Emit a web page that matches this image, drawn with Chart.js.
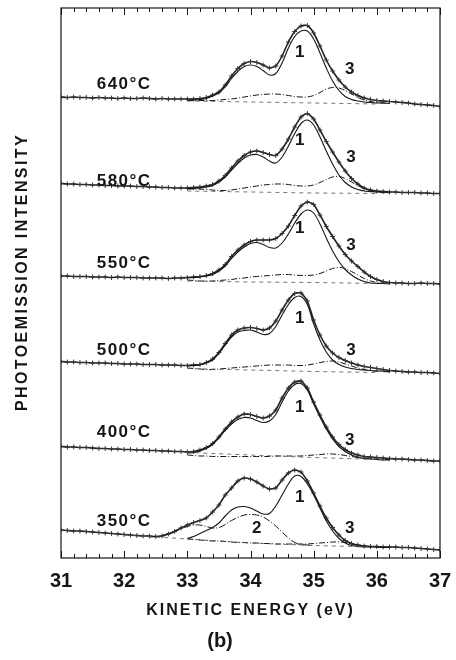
<!DOCTYPE html>
<html lang="en">
<head>
<meta charset="UTF-8">
<title>Photoemission spectra vs temperature</title>
<script src="https://cdn.jsdelivr.net/npm/chart.js@4/dist/chart.umd.min.js"></script>
<style>
  body { margin: 0; background: #fff; }
  #wrap { width: 456px; height: 660px; }
</style>
</head>
<body>
<div id="wrap"><canvas id="spectra" width="456" height="660"></canvas></div>
<script>
// spectra labels, top to bottom
const TEMPS = ['640°C', '580°C', '550°C', '500°C', '400°C', '350°C'];

// kinetic energy grids (eV)
const E_DATA = [31.0, 31.1, 31.2, 31.3, 31.4, 31.5, 31.6, 31.7, 31.8, 31.9,
  32.0, 32.1, 32.2, 32.3, 32.4, 32.5, 32.6, 32.7, 32.8, 32.9,
  33.0, 33.1, 33.2, 33.3, 33.4, 33.5, 33.6, 33.7, 33.8, 33.9,
  34.0, 34.1, 34.2, 34.3, 34.4, 34.5, 34.6, 34.7, 34.8, 34.9,
  35.0, 35.1, 35.2, 35.3, 35.4, 35.5, 35.6, 35.7, 35.8, 35.9,
  36.0, 36.1, 36.2, 36.3, 36.4, 36.5, 36.6, 36.7, 36.8, 36.9, 37.0];
const E_FIT = [33.0, 33.1, 33.2, 33.3, 33.4, 33.5, 33.6, 33.7, 33.8, 33.9,
  34.0, 34.1, 34.2, 34.3, 34.4, 34.5, 34.6, 34.7, 34.8, 34.9,
  35.0, 35.1, 35.2, 35.3, 35.4, 35.5, 35.6, 35.7, 35.8, 35.9,
  36.0, 36.1, 36.2];
const E_C2 = [32.4, 32.5, 32.6, 32.7, 32.8, 32.9, 33.0, 33.1, 33.2, 33.3,
  33.4, 33.5, 33.6, 33.7, 33.8, 33.9, 34.0, 34.1, 34.2, 34.3,
  34.4, 34.5, 34.6, 34.7, 34.8, 34.9, 35.0];
const E_BG = [33.0, 34.0, 35.0, 36.0];
const E_BG_350 = [32.0, 33.0, 34.0, 35.0, 36.0];
const E_TICKS = [31, 32, 33, 34, 35, 36, 37];

// intensity (arb. units, spectra already stacked)
const MEAS_640 = [461, 460.5, 461, 460.5, 460.5, 460, 460.5, 460, 460, 459.5,
  460, 459.5, 459.5, 460, 459.5, 459, 459.5, 459, 459, 459,
  459, 459, 459.5, 460.5, 463, 466, 473, 482, 489.5, 494.5,
  496.5, 495.5, 493, 490, 492, 502, 516, 526.5, 532, 532.5,
  525, 512, 498, 487, 478, 471, 466, 462.5, 460, 458.5,
  457.5, 457, 456.5, 456, 455.5, 455, 454, 453.5, 453, 452.5, 451.5];
const P1_640 = [458, 458, 458.5, 459.5, 462, 465, 471, 479.5, 486.5, 491.5,
  493, 491.5, 487.5, 483, 484.5, 495, 510, 521.5, 527, 527,
  519, 505, 490, 477, 467.5, 461.5, 458.5, 457, 456, 455.5,
  455, 455, 454.5];
const P3_640 = [457.5, 457.5, 457.5, 457.5, 457.5, 458, 458.5, 459, 460, 461,
  462, 463, 463.5, 464, 464, 463.5, 462.5, 461.5, 461, 461,
  462.5, 465.5, 469, 470.5, 470, 467.5, 464, 460.5, 458, 456.5,
  455.5, 455, 454.5];
const BG_640 = [457, 456, 455, 454];

const MEAS_580 = [374.5, 374, 374, 373.5, 373.5, 373, 373, 372.5, 372.5, 372,
  372, 372, 371.5, 371.5, 371, 371, 370.5, 370.5, 370, 370,
  370, 370.5, 371, 372, 373.5, 377, 382.5, 390, 397, 402.5,
  406, 407, 405.5, 403.5, 402.5, 409, 419, 431, 441, 444.5,
  439, 428, 416.5, 406, 396, 387, 379.5, 374, 370, 368,
  367, 366.5, 366, 366, 365.5, 365.5, 365.5, 365, 365, 364.5, 364.5];
const P1_580 = [369.5, 369.5, 370, 371, 372.5, 376, 381, 388, 394.5, 400,
  403, 403.5, 401, 397, 395, 401, 412, 424.5, 434.5, 438,
  433, 421, 407, 394, 383, 375.5, 371, 368.5, 367, 366.5,
  366, 366, 365.5];
const P3_580 = [369, 369, 369, 368.5, 368, 367.5, 367.5, 368, 369, 370,
  371, 372, 373, 373.5, 374, 374, 373.5, 372.5, 372, 372,
  373, 375.5, 378.5, 381, 381.5, 379.5, 376, 372.5, 369, 367,
  366, 365.5, 365];
const BG_580 = [367, 366, 365, 364.5];

const MEAS_550 = [282, 282, 281.5, 281.5, 281.5, 281, 281, 281, 280.5, 281,
  280.5, 280.5, 280.5, 280, 280, 280, 280, 279.5, 280, 280,
  280.5, 281, 281.5, 282.5, 284.5, 288, 293.5, 301.5, 308, 313,
  316.5, 318, 318, 318, 319.5, 324.5, 332, 342.5, 352, 356,
  353.5, 343, 331.5, 321.5, 312, 303.5, 297, 291.5, 286, 281.5,
  278.5, 276.5, 275.5, 275, 275, 274.5, 274.5, 275, 274.5, 274.5, 274];
const P1_550 = [280, 280.5, 281, 282, 283.5, 287, 292, 299.5, 306, 311,
  314.5, 315.5, 313.5, 310.5, 310, 315, 324, 335, 344, 348,
  345, 334, 320, 307, 296.5, 288.5, 283, 279, 276.5, 275,
  274.5, 274.5, 274];
const P3_550 = [278, 277.5, 277, 277, 277, 277.5, 278, 278.5, 279.5, 280,
  281, 281.5, 282, 282.5, 283, 283.5, 283.5, 283, 282.5, 282.5,
  283, 284.5, 287, 289.5, 290.5, 289.5, 286.5, 283, 279.5, 277,
  275.5, 275, 274.5];
const BG_550 = [277, 276, 275.5, 274.5];

const MEAS_500 = [196.5, 196, 196, 195.5, 195.5, 195, 195, 195, 194.5, 194.5,
  194, 194, 194, 193.5, 193.5, 193.5, 193, 193, 193, 192.5,
  192.5, 193, 193.5, 195.5, 199, 205.5, 214.5, 223, 228, 230,
  230.5, 229.5, 228, 230, 237, 248, 258, 264.5, 265, 257,
  238, 223, 212, 205, 200.5, 197.5, 195, 193, 191.5, 190.5,
  189.5, 188.5, 187.5, 187, 186.5, 186, 186, 185.5, 185.5, 185, 184.5];
const P1_500 = [192, 192.5, 193, 195, 198, 204.5, 213, 221, 226, 227.5,
  228, 226, 223.5, 224.5, 231.5, 243, 253.5, 260.5, 261.5, 253.5,
  234, 218, 206, 198, 193.5, 191, 189.5, 188.5, 188, 187.5,
  187, 187, 186.5];
const P3_500 = [190, 189.5, 189, 188.5, 188.5, 189, 189.5, 190, 190.5, 191,
  191.5, 192, 192.5, 193, 193, 193, 193, 192.5, 192.5, 193,
  194, 195.5, 196.5, 197, 196, 194, 192, 190, 188.5, 187.5,
  187, 186.5, 186];
const BG_500 = [189.5, 188, 186.5, 185.5];

const MEAS_400 = [111.5, 111, 111, 110.5, 110.5, 110, 109.5, 109.5, 109, 109,
  108.5, 108.5, 108, 108, 107.5, 107.5, 107, 107, 106.5, 106.5,
  106, 106.5, 108, 110.5, 114.5, 121, 129, 136, 141, 144,
  143.5, 141.5, 140, 142, 148, 160, 170, 176, 177, 170,
  156, 143, 131, 121, 113.5, 108.5, 105, 103, 101.5, 101,
  100.5, 100, 99.5, 99, 99, 98.5, 98, 98, 97.5, 97, 97];
const P1_400 = [105, 105.5, 107, 109.5, 113.5, 120, 127.5, 134, 138.5, 140.5,
  140, 137.5, 135.5, 137, 143.5, 156, 167, 173.5, 174.5, 168,
  154, 141, 129, 119, 111.5, 106.5, 103, 101, 99.5, 99,
  98.5, 98, 98];
const P3_400 = [103, 102.5, 102, 102, 101.5, 101.5, 101.5, 101.5, 101.5, 101.5,
  101.5, 101.5, 101.5, 101.5, 102, 102, 102, 102, 102, 102.5,
  103, 103.5, 104, 104, 103.5, 102.5, 101.5, 100.5, 100, 99.5,
  99, 98.5, 98.5];
const BG_400 = [105.5, 103, 100.5, 98.5];

const MEAS_350 = [28, 27.5, 27, 27, 26.5, 26, 25.5, 25, 24.5, 24,
  23.5, 23, 22.5, 22, 22, 21.5, 22, 24, 26.5, 30,
  33, 35.5, 37.5, 40, 46, 53, 63, 70, 77, 80,
  79, 76, 72, 69, 70, 78, 85, 88, 86, 77,
  65, 52, 40, 30.5, 23, 17.5, 14.5, 13, 12, 11.5,
  11.5, 11, 11, 11, 10.5, 10.5, 10, 9.5, 9, 8.5, 8];
const P1_350 = [19.5, 21.5, 24.5, 27.5, 30.5, 35, 42, 48, 51, 51.5,
  50, 47, 44, 44.5, 52, 63, 74, 82, 81.5, 74,
  63, 50, 37, 27, 19.5, 15, 12.5, 11.5, 11, 11,
  11, 10.5, 10.5];
const P2_350 = [21, 21.5, 22.5, 24.5, 27, 29.5, 31.5, 33, 33, 31.5,
  30, 30.5, 33.5, 37.5, 40.5, 43, 43.5, 43, 41, 37,
  32, 26, 20, 15.5, 13.5, 13, 12.5];
const P3_350 = [19, 18.5, 18, 17.5, 17, 17, 16.5, 16, 15.5, 15.5,
  15, 15, 14.5, 14.5, 14, 14, 14, 14, 14, 14,
  14.5, 15, 15.5, 16, 16, 15.5, 14, 13, 12, 11.5,
  11, 11, 10.5];
const BG_350 = [23, 19, 15, 12.5, 11];

// label anchors in data coordinates [energy, intensity]
const TEMP_POS = [[32.0, 474], [32.0, 377], [32.0, 295], [32.0, 208], [32.0, 126], [32.0, 37]];
const PEAK_TAGS = [
  ['1', 34.78, 506], ['3', 35.57, 489],
  ['1', 34.78, 418], ['3', 35.59, 401],
  ['1', 34.78, 330], ['3', 35.59, 313],
  ['1', 34.78, 240], ['3', 35.59, 208],
  ['1', 34.78, 151], ['3', 35.57, 118],
  ['1', 34.78, 61], ['2', 34.1, 30], ['3', 35.57, 30]
];

const INK = '#161616';
const FONT = '"Liberation Sans", Arial, Helvetica, sans-serif';

const spectra = [
  { meas: MEAS_640, p1: P1_640, p3: P3_640, bg: BG_640, eb: E_BG },
  { meas: MEAS_580, p1: P1_580, p3: P3_580, bg: BG_580, eb: E_BG },
  { meas: MEAS_550, p1: P1_550, p3: P3_550, bg: BG_550, eb: E_BG },
  { meas: MEAS_500, p1: P1_500, p3: P3_500, bg: BG_500, eb: E_BG },
  { meas: MEAS_400, p1: P1_400, p3: P3_400, bg: BG_400, eb: E_BG },
  { meas: MEAS_350, p1: P1_350, p3: P3_350, bg: BG_350, eb: E_BG_350, p2: P2_350 }
];

function pts(xs, ys) {
  return xs.map((x, i) => ({ x: x, y: ys[i] }));
}

const datasets = [];
spectra.forEach((s, k) => {
  datasets.push({
    label: TEMPS[k] + ' background', data: pts(s.eb, s.bg),
    borderColor: '#555', borderWidth: 0.8, borderDash: [4, 4], pointRadius: 0
  });
  datasets.push({
    label: TEMPS[k] + ' peak 3', data: pts(E_FIT, s.p3),
    borderColor: INK, borderWidth: 1, borderDash: [6, 2, 1, 2], pointRadius: 0, tension: 0.35
  });
  if (s.p2) {
    datasets.push({
      label: TEMPS[k] + ' peak 2', data: pts(E_C2, s.p2),
      borderColor: INK, borderWidth: 1, borderDash: [7, 2, 1, 2], pointRadius: 0, tension: 0.35
    });
  }
  datasets.push({
    label: TEMPS[k] + ' peak 1', data: pts(E_FIT, s.p1),
    borderColor: INK, borderWidth: 1.1, pointRadius: 0, tension: 0.35
  });
  datasets.push({
    label: TEMPS[k] + ' data', data: pts(E_DATA, s.meas),
    borderColor: '#222', borderWidth: 1.6, tension: 0.2,
    pointStyle: 'cross', pointRadius: 2.4, pointBorderWidth: 1, pointBorderColor: '#333'
  });
});

// box, inward ticks, curve labels and axis titles
const decor = {
  id: 'decor',
  afterDatasetsDraw(chart) {
    const { ctx, chartArea: a, scales: { x, y } } = chart;
    ctx.save();
    ctx.strokeStyle = INK;
    ctx.lineWidth = 1.2;
    ctx.strokeRect(a.left, a.top, a.right - a.left, a.bottom - a.top);
    ctx.lineWidth = 1;
    for (let i = 0; i <= 30; i++) {
      const px = Math.round(x.getPixelForValue(31 + i * 0.2)) + 0.5;
      const len = i % 5 === 0 ? 7 : 4;
      ctx.beginPath();
      ctx.moveTo(px, a.bottom); ctx.lineTo(px, a.bottom - len);
      ctx.moveTo(px, a.top); ctx.lineTo(px, a.top + len);
      ctx.stroke();
    }

    ctx.fillStyle = INK;
    ctx.textAlign = 'center';
    ctx.textBaseline = 'middle';
    ctx.font = 'bold 17px ' + FONT;
    ctx.letterSpacing = '1.5px';
    TEMPS.forEach((t, k) => {
      ctx.fillText(t, x.getPixelForValue(TEMP_POS[k][0]), y.getPixelForValue(TEMP_POS[k][1]));
    });
    ctx.letterSpacing = '0px';
    PEAK_TAGS.forEach(p => {
      ctx.fillText(p[0], x.getPixelForValue(p[1]), y.getPixelForValue(p[2]));
    });

    // axis titles
    ctx.font = 'bold 16px ' + FONT;
    ctx.letterSpacing = '2px';
    ctx.fillText('KINETIC ENERGY (eV)', (a.left + a.right) / 2, 611);
    ctx.translate(23, 272);
    ctx.rotate(-Math.PI / 2);
    ctx.letterSpacing = '2.4px';
    ctx.fillText('PHOTOEMISSION INTENSITY', 0, 0);
    ctx.restore();
  }
};

new Chart(document.getElementById('spectra'), {
  type: 'line',
  data: { datasets: datasets },
  options: {
    responsive: false,
    devicePixelRatio: 1,
    animation: false,
    layout: { padding: { top: 8, right: 16, bottom: 0, left: 0 } },
    plugins: {
      legend: { display: false },
      tooltip: { enabled: false },
      title: {
        display: true, position: 'bottom', text: '(b)', color: INK,
        font: { family: FONT, size: 20, weight: 'bold', lineHeight: 1.2 },
        padding: { top: 0, bottom: 7 }
      }
    },
    scales: {
      x: {
        type: 'linear', min: 31, max: 37,
        grid: { display: false }, border: { display: false },
        afterBuildTicks: s => { s.ticks = E_TICKS.map(v => ({ value: v })); },
        ticks: {
          padding: 3, color: INK, maxRotation: 0, autoSkip: false,
          font: { family: FONT, size: 20, weight: 'bold', lineHeight: 1.2 }
        },
        afterFit: s => { s.height = 71; }
      },
      y: {
        min: 0, max: 550,
        ticks: { display: false }, grid: { display: false }, border: { display: false },
        afterFit: s => { s.width = 61; }
      }
    }
  },
  plugins: [decor]
});
</script>
</body>
</html>
